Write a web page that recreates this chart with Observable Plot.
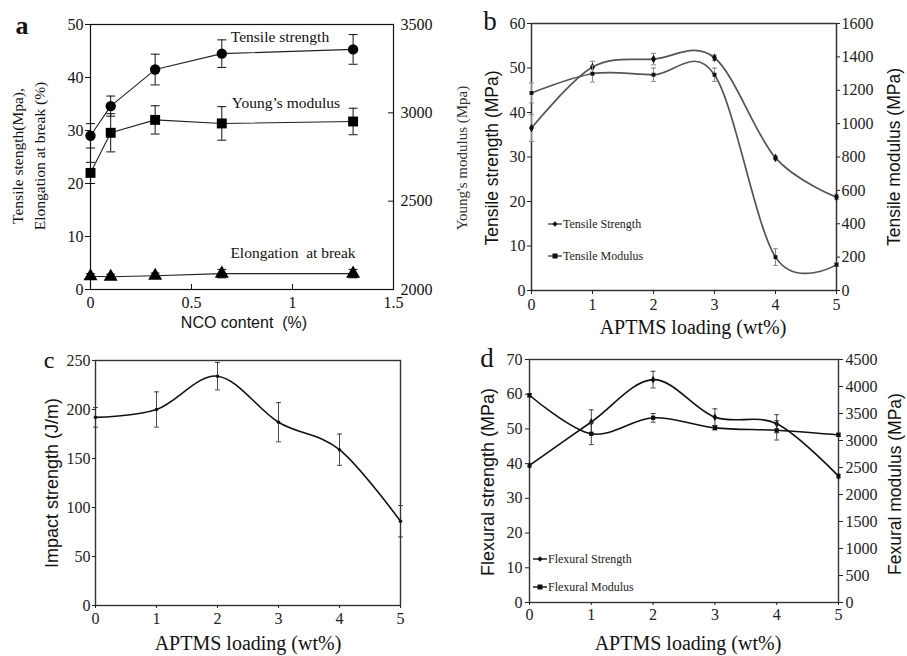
<!DOCTYPE html>
<html><head><meta charset="utf-8">
<script src="https://cdn.jsdelivr.net/npm/d3@7"></script>
<script src="https://cdn.jsdelivr.net/npm/@observablehq/plot@0.6"></script>
<style>
body{margin:0;background:#fff;}
#fig{position:relative;width:907px;height:656px;overflow:hidden;background:#fff;}
#fig svg{position:absolute;}
.lbl{position:absolute;white-space:nowrap;line-height:1;color:#111;}
</style></head><body><div id="fig"></div>
<script>
// ---------- data ----------
// panel a
const ncoContent = [0, 0.1, 0.32, 0.65, 1.3];
const aTensile = [29.0, 34.6, 41.5, 44.5, 45.3];
const aTensileErr = [2.3, 1.9, 2.9, 2.6, 2.8];
const aYoung = [2660, 2887, 2960, 2940, 2951];
const aYoungErr = [60, 108, 80, 95, 75];
const aElong = [2.5, 2.4, 2.6, 3.0, 3.0];
const aElongErr = [0.5, 0.5, 0.5, 0.8, 0.8];
const aXTicks = [0, 0.5, 1, 1.5];
const aYTicks = [0, 10, 20, 30, 40, 50];
const aY2Ticks = [2000, 2500, 3000, 3500];
// panels b, c, d
const aptms = [0, 1, 2, 3, 4, 5];
const bStrength = [36.5, 50.2, 52.0, 52.3, 29.8, 21.0];
const bStrengthErr = [3.0, 1.3, 1.3, 0.6, 0.4, 0.5];
const bModulus = [1184, 1299, 1293, 1293, 200, 155];
const bModulusErr = [60, 50, 40, 40, 50, 10];
const bYTicks = [0, 10, 20, 30, 40, 50, 60];
const bY2Ticks = [0, 200, 400, 600, 800, 1000, 1200, 1400, 1600];
const cImpact = [192, 200, 234, 187, 159, 86];
const cImpactErr = [10, 18, 14, 20, 16, 16];
const cYTicks = [0, 50, 100, 150, 200, 250];
const dStrength = [39.5, 52.0, 64.2, 53.4, 51.5, 36.4];
const dStrengthErr = [0.5, 3.5, 2.4, 2.4, 2.6, 0.5];
const dModulus = [3838, 3124, 3420, 3234, 3189, 3105];
const dModulusErr = [30, 200, 80, 40, 180, 30];
const dYTicks = [0, 10, 20, 30, 40, 50, 60, 70];
const dY2Ticks = [0, 500, 1000, 1500, 2000, 2500, 3000, 3500, 4000, 4500];

// ---------- helpers ----------
const SERIF = '"Liberation Serif","DejaVu Serif",serif';
const SANS = '"Liberation Sans","DejaVu Sans",sans-serif';
const fmt = d => String(d);
const fig = document.getElementById("fig");
const capSymbol = {draw(ctx, size){ const w = Math.sqrt(size / Math.PI); ctx.moveTo(-w, 0); ctx.lineTo(w, 0); }};
const rows = (xs, ys) => xs.map((x, i) => ({x, y: ys[i]}));
function bars(xs, ys, es, {stroke = "#111", strokeWidth = 1, cap = 3} = {}) {
  const r = xs.map((x, i) => ({x, lo: ys[i] - es[i], hi: ys[i] + es[i]}));
  return [
    Plot.ruleX(r, {x: "x", y1: "lo", y2: "hi", stroke, strokeWidth}),
    Plot.dot(r, {x: "x", y: "lo", r: cap, symbol: capSymbol, stroke, strokeWidth, fill: "none"}),
    Plot.dot(r, {x: "x", y: "hi", r: cap, symbol: capSymbol, stroke, strokeWidth, fill: "none"})
  ];
}
function style(size = 16, color = "#111") {
  return {background: "none", fontFamily: SERIF, fontSize: size + "px", color, overflow: "visible", maxWidth: "none"};
}
function put(svg, left, top) { svg.style.left = left + "px"; svg.style.top = top + "px"; fig.appendChild(svg); }
function label(html, x, y, {size = 16, family = SERIF, rotate = false, weight = "normal", color = "#111", align = "center", lh = 1} = {}) {
  const d = document.createElement("div");
  d.className = "lbl";
  d.innerHTML = html;
  Object.assign(d.style, {left: x + "px", top: y + "px", fontSize: size + "px", fontFamily: family, fontWeight: weight, color, textAlign: align, lineHeight: lh});
  d.style.transform = rotate ? "translate(-50%,-50%) rotate(-90deg)" : (align === "left" ? "translate(0,-50%)" : "translate(-50%,-50%)");
  fig.appendChild(d);
}
function legendItem(x, y, sym, text, color) {
  const d = document.createElement("div");
  d.className = "lbl";
  Object.assign(d.style, {left: x + "px", top: y + "px", transform: "translate(0,-50%)", fontFamily: SERIF, fontSize: "12px", color: "#222", display: "flex", alignItems: "center"});
  const mark = sym === "square"
    ? '<rect x="4.5" y="1.5" width="5" height="5" fill="#111"/>'
    : '<path d="M7 1.3L9.6 4L7 6.7L4.4 4Z" fill="#111"/>';
  d.innerHTML = '<svg width="14" height="8" style="position:static;margin-right:1px"><line x1="0" y1="4" x2="14" y2="4" stroke="' + color + '" stroke-width="1.5"/>' + mark + '</svg>' + text;
  fig.appendChild(d);
}

// ---------- panel a ----------
{
  const W = 455, H = 330, mL = 90, mR = 62, mT = 24, mB = 41;
  const fw = W - mL - mR, fh = H - mT - mB;
  const left = Plot.plot({
    width: W, height: H, marginLeft: mL, marginRight: mR, marginTop: mT, marginBottom: mB,
    style: style(16), x: {domain: [0, 1.5]}, y: {domain: [0, 50]},
    marks: [
      Plot.frame({stroke: "#111", strokeWidth: 1.2}),
      Plot.axisY({ticks: aYTicks, tickSize: 5, tickPadding: 2, tickFormat: fmt, label: null}),
      Plot.axisX({ticks: aXTicks, tickSize: 0, tickPadding: 7, tickFormat: fmt, label: null}),
      Plot.ruleX(aXTicks, {insetTop: fh - 5, stroke: "#111"}),
      ...bars(ncoContent, aTensile, aTensileErr, {cap: 4.5}),
      ...bars(ncoContent, aElong, aElongErr, {cap: 4.5}),
      Plot.line(rows(ncoContent, aTensile), {x: "x", y: "y", stroke: "#222", strokeWidth: 1.1}),
      Plot.dot(rows(ncoContent, aTensile), {x: "x", y: "y", r: 5.2, fill: "#000", symbol: "circle"}),
      Plot.line(rows(ncoContent, aElong), {x: "x", y: "y", stroke: "#222", strokeWidth: 1.1}),
      Plot.dot(rows(ncoContent, aElong), {x: "x", y: "y", r: 5.2, fill: "#000", symbol: "triangle"})
    ]
  });
  put(left, 0, 0);
  const right = Plot.plot({
    width: W, height: H, marginLeft: mL, marginRight: mR, marginTop: mT, marginBottom: mB,
    style: style(16), x: {domain: [0, 1.5], axis: null}, y: {domain: [2000, 3500]},
    marks: [
      Plot.axisY({anchor: "right", ticks: aY2Ticks, tickSize: 0, tickPadding: 7, tickFormat: fmt, label: null}),
      Plot.ruleY(aY2Ticks, {insetLeft: fw - 5, stroke: "#111"}),
      ...bars(ncoContent, aYoung, aYoungErr, {cap: 4.5}),
      Plot.line(rows(ncoContent, aYoung), {x: "x", y: "y", stroke: "#222", strokeWidth: 1.1}),
      Plot.dot(rows(ncoContent, aYoung), {x: "x", y: "y", r: 5.6, fill: "#000", symbol: "square"})
    ]
  });
  put(right, 0, 0);
  label("a", 22, 26, {size: 26, family: SERIF, weight: "bold"});
  label("Tensile stength(Mpa),<br>Elongation at break (%)", 29, 156, {size: 15.5, rotate: true, lh: 1.4});
  label("Young's modulus (Mpa)", 462, 158, {size: 15, rotate: true, color: "#333"});
  label("NCO content&nbsp;&nbsp;(%)", 244, 323, {size: 16, family: SANS});
  label("Tensile strength", 280, 37, {size: 15.5});
  label("Young’s modulus", 286, 103, {size: 15.5});
  label("Elongation&nbsp; at break", 293, 253, {size: 15.5});
}

// ---------- panel b ----------
{
  const W = 452, H = 330, mL = 76, mR = 71, mT = 23, mB = 40;
  const left = Plot.plot({
    width: W, height: H, marginLeft: mL, marginRight: mR, marginTop: mT, marginBottom: mB,
    style: style(16, "#222"), x: {domain: [0, 5]}, y: {domain: [0, 60]},
    marks: [
      Plot.frame({stroke: "#333", strokeWidth: 1.5}),
      Plot.axisY({ticks: bYTicks, tickSize: 4, tickPadding: 2, tickFormat: fmt, label: null}),
      Plot.axisX({ticks: aptms, tickSize: 4, tickPadding: 4, tickFormat: fmt, label: null}),
      ...bars(aptms, bStrength, bStrengthErr, {stroke: "#888", strokeWidth: 1, cap: 2.5}),
      Plot.line(rows(aptms, bStrength), {x: "x", y: "y", stroke: "#555", strokeWidth: 1.7, curve: "cardinal"}),
      Plot.dot(rows(aptms, bStrength), {x: "x", y: "y", r: 2.6, fill: "#111", symbol: "diamond"})
    ]
  });
  put(left, 455, 0);
  const right = Plot.plot({
    width: W, height: H, marginLeft: mL, marginRight: mR, marginTop: mT, marginBottom: mB,
    style: style(16, "#222"), x: {domain: [0, 5], axis: null}, y: {domain: [0, 1600]},
    marks: [
      Plot.axisY({anchor: "right", ticks: bY2Ticks, tickSize: 3, tickPadding: 2, tickFormat: fmt, label: null}),
      ...bars(aptms, bModulus, bModulusErr, {stroke: "#888", strokeWidth: 1, cap: 2.5}),
      Plot.line(rows(aptms, bModulus), {x: "x", y: "y", stroke: "#555", strokeWidth: 1.7, curve: "cardinal"}),
      Plot.dot(rows(aptms, bModulus), {x: "x", y: "y", r: 2.2, fill: "#111", symbol: "square"})
    ]
  });
  put(right, 455, 0);
  label("b", 490, 21, {size: 27});
  label("Tensile strength (MPa)", 493, 158, {size: 17.5, family: SANS, rotate: true});
  label("Tensile modulus (MPa)", 895, 157, {size: 17.5, family: SANS, rotate: true});
  label("APTMS loading (wt%)", 693, 327, {size: 20});
  legendItem(548, 224, "diamond", "Tensile Strength", "#555");
  legendItem(548, 256, "square", "Tensile Modulus", "#555");
}

// ---------- panel c ----------
{
  const W = 455, H = 326, mL = 95, mR = 55, mT = 30, mB = 51;
  const c = Plot.plot({
    width: W, height: H, marginLeft: mL, marginRight: mR, marginTop: mT, marginBottom: mB,
    style: style(16, "#222"), x: {domain: [0, 5]}, y: {domain: [0, 250]},
    marks: [
      Plot.frame({stroke: "#333", strokeWidth: 1.4}),
      Plot.axisY({ticks: cYTicks, tickSize: 3, tickPadding: 2, tickFormat: fmt, label: null}),
      Plot.axisX({ticks: aptms, tickSize: 3, tickPadding: 4, tickFormat: fmt, label: null}),
      ...bars(aptms, cImpact, cImpactErr, {stroke: "#333", strokeWidth: 0.9, cap: 2.5}),
      Plot.line(rows(aptms, cImpact), {x: "x", y: "y", stroke: "#111", strokeWidth: 1.6, curve: "cardinal"}),
      Plot.dot(rows(aptms, cImpact), {x: "x", y: "y", r: 1.8, fill: "#111"})
    ]
  });
  put(c, 0, 330);
  label("c", 49, 360, {size: 24});
  label("Impact strength (J/m)", 52, 483, {size: 18, family: SANS, rotate: true});
  label("APTMS loading (wt%)", 248, 643, {size: 20});
}

// ---------- panel d ----------
{
  const W = 452, H = 326, mL = 74, mR = 69, mT = 29, mB = 54;
  const left = Plot.plot({
    width: W, height: H, marginLeft: mL, marginRight: mR, marginTop: mT, marginBottom: mB,
    style: style(16, "#222"), x: {domain: [0, 5]}, y: {domain: [0, 70]},
    marks: [
      Plot.frame({stroke: "#333", strokeWidth: 1.4}),
      Plot.axisY({ticks: dYTicks, tickSize: 4, tickPadding: 3, tickFormat: fmt, label: null}),
      Plot.axisX({ticks: aptms, tickSize: 3, tickPadding: 3, tickFormat: fmt, label: null}),
      ...bars(aptms, dStrength, dStrengthErr, {stroke: "#333", strokeWidth: 0.9, cap: 2.5}),
      Plot.line(rows(aptms, dStrength), {x: "x", y: "y", stroke: "#111", strokeWidth: 1.6, curve: "cardinal"}),
      Plot.dot(rows(aptms, dStrength), {x: "x", y: "y", r: 2.4, fill: "#111", symbol: "diamond"})
    ]
  });
  put(left, 455, 330);
  const right = Plot.plot({
    width: W, height: H, marginLeft: mL, marginRight: mR, marginTop: mT, marginBottom: mB,
    style: style(16, "#222"), x: {domain: [0, 5], axis: null}, y: {domain: [0, 4500]},
    marks: [
      Plot.axisY({anchor: "right", ticks: dY2Ticks, tickSize: 4, tickPadding: 3, tickFormat: fmt, label: null}),
      ...bars(aptms, dModulus, dModulusErr, {stroke: "#333", strokeWidth: 0.9, cap: 2.5}),
      Plot.line(rows(aptms, dModulus), {x: "x", y: "y", stroke: "#111", strokeWidth: 1.6, curve: "cardinal"}),
      Plot.dot(rows(aptms, dModulus), {x: "x", y: "y", r: 2.4, fill: "#111", symbol: "square"})
    ]
  });
  put(right, 455, 330);
  label("d", 487, 358, {size: 27});
  label("Flexural strength (MPa)", 488, 482, {size: 18, family: SANS, rotate: true});
  label("Fexural modulus (MPa)", 896, 484, {size: 17.5, family: SANS, rotate: true});
  label("APTMS loading (wt%)", 688, 643, {size: 20});
  legendItem(533, 559, "diamond", "Flexural Strength", "#222");
  legendItem(533, 587, "square", "Flexural Modulus", "#222");
}
</script></body></html>
